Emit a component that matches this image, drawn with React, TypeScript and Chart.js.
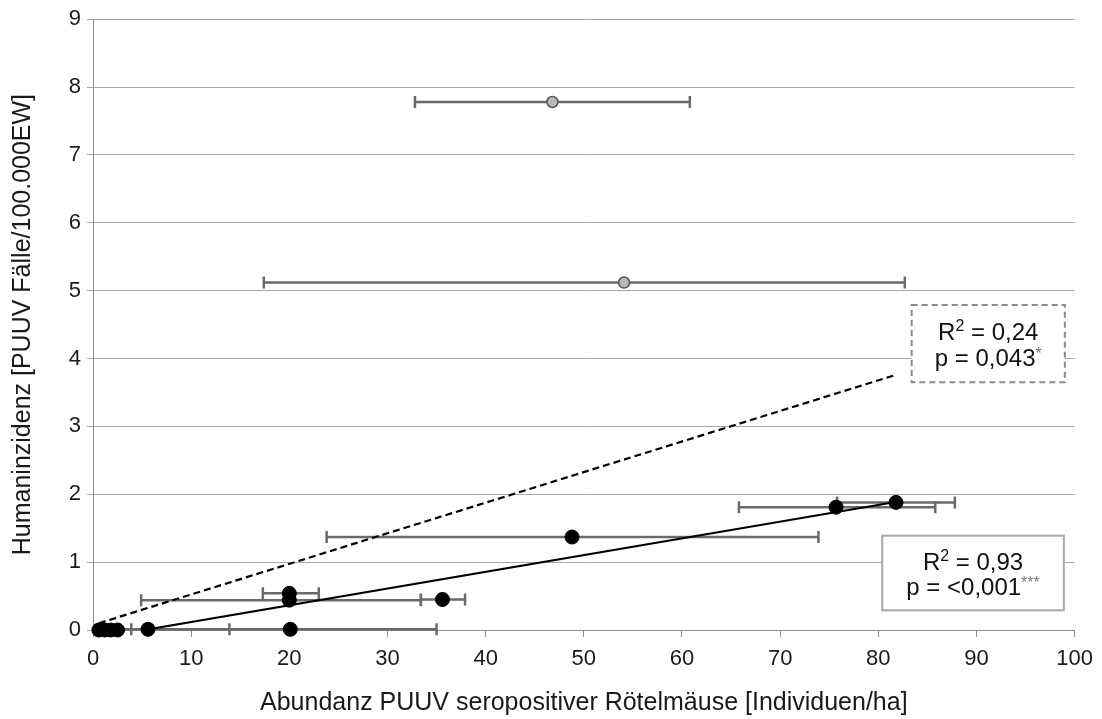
import React, { useEffect, useRef } from "react";
import { Chart, registerables } from "chart.js";

Chart.register(...registerables);

// Significant series (black points)
const sigX = [0.6, 1.2, 1.8, 2.5, 5.6, 20.1, 20.0, 20.0, 35.6, 48.8, 75.7, 81.8];
const sigY = [0.0, 0.0, 0.0, 0.0, 0.01, 0.01, 0.44, 0.54, 0.45, 1.37, 1.81, 1.88];
const sigXLow = [0.6, 1.2, 1.8, 2.5, -2.7, 3.9, 4.9, 17.3, 33.4, 23.8, 65.8, 75.8];
const sigXHigh = [0.6, 1.2, 1.8, 2.5, 13.9, 35.0, 33.4, 23.0, 37.9, 73.9, 85.8, 87.8];

// Outlier series (grey points)
const outX = [46.8, 54.1];
const outY = [7.78, 5.12];
const outXLow = [32.8, 17.4];
const outXHigh = [60.8, 82.7];

// Trend lines
const trendAllX = [0.6, 81.8];
const trendAllY = [0.1, 3.76];
const trendSigX = [5.2, 81.9];
const trendSigY = [0.0, 1.89];

// Axes
const xMin = 0;
const xMax = 100;
const xStep = 10;
const yMin = 0;
const yMax = 9;
const yStep = 1;
const xTitle = "Abundanz PUUV seropositiver Rötelmäuse [Individuen/ha]";
const yTitle = "Humaninzidenz [PUUV Fälle/100.000EW]";

// Annotation boxes (data units)
const boxAll = { x0: 83.4, x1: 99.0, y0: 4.79, y1: 3.65 };
const boxSig = { x0: 80.4, x1: 98.9, y0: 1.39, y1: 0.29 };
const boxAllLines = [
  { main: "R", sup: "2", rest: " = 0,24", tail: "" },
  { main: "p = 0,043", sup: "", rest: "", tail: "*" },
];
const boxSigLines = [
  { main: "R", sup: "2", rest: " = 0,93", tail: "" },
  { main: "p = <0,001", sup: "", rest: "", tail: "***" },
];

const FONT = "'Liberation Sans', Arial, sans-serif";

const errorBarPlugin = {
  id: "errorBars",
  beforeDatasetsDraw(chart: any) {
    const { ctx, chartArea, scales } = chart;
    const xs = scales.x;
    const ys = scales.y;
    ctx.save();
    ctx.beginPath();
    ctx.rect(chartArea.left, 0, chartArea.right - chartArea.left, chart.height);
    ctx.clip();
    ctx.strokeStyle = "#6a6a6a";
    ctx.lineWidth = 2.5;
    const drawSet = (X: number[], Y: number[], L: number[], H: number[]) => {
      for (let i = 0; i < X.length; i++) {
        if (L[i] === H[i]) continue;
        const py = ys.getPixelForValue(Y[i]);
        const pl = xs.getPixelForValue(L[i]);
        const ph = xs.getPixelForValue(H[i]);
        ctx.beginPath();
        ctx.moveTo(pl, py);
        ctx.lineTo(ph, py);
        ctx.moveTo(pl, py - 6);
        ctx.lineTo(pl, py + 6);
        ctx.moveTo(ph, py - 6);
        ctx.lineTo(ph, py + 6);
        ctx.stroke();
      }
    };
    drawSet(sigX, sigY, sigXLow, sigXHigh);
    drawSet(outX, outY, outXLow, outXHigh);
    ctx.restore();
  },
};

function drawBox(chart: any, box: any, lines: any[], dashed: boolean) {
  const { ctx, scales } = chart;
  const x0 = scales.x.getPixelForValue(box.x0);
  const x1 = scales.x.getPixelForValue(box.x1);
  const y0 = scales.y.getPixelForValue(box.y0);
  const y1 = scales.y.getPixelForValue(box.y1);
  ctx.save();
  ctx.fillStyle = "#ffffff";
  ctx.fillRect(x0, y0, x1 - x0, y1 - y0);
  ctx.strokeStyle = dashed ? "#8a8a8a" : "#a8a8a8";
  ctx.lineWidth = 2;
  ctx.setLineDash(dashed ? [6, 4] : []);
  ctx.strokeRect(x0, y0, x1 - x0, y1 - y0);
  ctx.setLineDash([]);
  const size = 24;
  const supSize = 16;
  const cx = (x0 + x1) / 2;
  const h = y1 - y0;
  const lineY = [y0 + h * 0.34, y0 + h * 0.68];
  ctx.textBaseline = "alphabetic";
  ctx.textAlign = "left";
  lines.forEach((ln, i) => {
    const base = lineY[i] + size * 0.36;
    ctx.font = `${size}px ${FONT}`;
    const wMain = ctx.measureText(ln.main).width;
    const wRest = ctx.measureText(ln.rest).width;
    ctx.font = `${supSize}px ${FONT}`;
    const wSup = ctx.measureText(ln.sup).width;
    const wTail = ctx.measureText(ln.tail).width;
    const total = wMain + wSup + wRest + wTail;
    let x = cx - total / 2;
    ctx.fillStyle = "#111111";
    ctx.font = `${size}px ${FONT}`;
    ctx.fillText(ln.main, x, base);
    x += wMain;
    ctx.font = `${supSize}px ${FONT}`;
    ctx.fillText(ln.sup, x, base - size * 0.36);
    x += wSup;
    ctx.font = `${size}px ${FONT}`;
    ctx.fillText(ln.rest, x, base);
    x += wRest;
    ctx.fillStyle = "#777777";
    ctx.font = `${supSize}px ${FONT}`;
    ctx.fillText(ln.tail, x, base - size * 0.3);
  });
  ctx.restore();
}

const boxPlugin = {
  id: "statBoxes",
  afterDraw(chart: any) {
    drawBox(chart, boxAll, boxAllLines, true);
    drawBox(chart, boxSig, boxSigLines, false);
  },
};

export default function App() {
  const ref = useRef<HTMLCanvasElement>(null);
  useEffect(() => {
    if (!ref.current) return;
    const toPts = (X: number[], Y: number[]) => X.map((x, i) => ({ x, y: Y[i] }));
    const chart = new Chart(ref.current, {
      type: "scatter",
      data: {
        datasets: [
          {
            label: "sig",
            data: toPts(sigX, sigY),
            backgroundColor: "#000000",
            borderColor: "#000000",
            pointRadius: 7,
            pointHoverRadius: 7,
            clip: false,
            order: 0,
          } as any,
          {
            label: "out",
            data: toPts(outX, outY),
            backgroundColor: "#b8b8b8",
            borderColor: "#555555",
            borderWidth: 1.5,
            pointRadius: 5.5,
            clip: false,
            order: 1,
          } as any,
          {
            type: "line",
            label: "trendSig",
            data: toPts(trendSigX, trendSigY),
            borderColor: "#000000",
            borderWidth: 2.2,
            pointRadius: 0,
            fill: false,
            showLine: true,
            order: 2,
          } as any,
          {
            type: "line",
            label: "trendAll",
            data: toPts(trendAllX, trendAllY),
            borderColor: "#000000",
            borderWidth: 2.2,
            borderDash: [7, 4],
            pointRadius: 0,
            fill: false,
            showLine: true,
            order: 3,
          } as any,
        ],
      },
      options: {
        responsive: false,
        animation: false,
        events: [],
        layout: { padding: { top: 15, right: 26, left: 0, bottom: 0 } },
        plugins: { legend: { display: false }, tooltip: { enabled: false } },
        scales: {
          x: {
            type: "linear",
            min: xMin,
            max: xMax,
            ticks: { stepSize: xStep, color: "#1a1a1a", font: { family: FONT, size: 22 }, padding: 9 },
            grid: { drawOnChartArea: false, drawTicks: true, tickLength: 7, color: "#8c8c8c" },
            border: { color: "#8c8c8c", width: 1 },
            title: { display: true, text: xTitle, color: "#1a1a1a", font: { family: FONT, size: 25 }, padding: { bottom: 1, top: 0 } },
            afterFit: (s: any) => { s.height = 89; },
          },
          y: {
            type: "linear",
            min: yMin,
            max: yMax,
            ticks: { stepSize: yStep, color: "#1a1a1a", font: { family: FONT, size: 22 }, padding: 6 },
            grid: { color: "#a8a8a8", tickLength: 6, lineWidth: 1 },
            border: { color: "#8c8c8c", width: 1 },
            title: { display: true, text: yTitle, color: "#1a1a1a", font: { family: FONT, size: 25 }, padding: { top: 8, bottom: 0 } },
            afterFit: (s: any) => { s.width = 93; },
          },
        },
      },
      plugins: [errorBarPlugin, boxPlugin],
    });
    return () => chart.destroy();
  }, []);
  return (
    <div style={{ position: "absolute", left: 0, top: 0, width: 1102, height: 719, background: "#fff" }}>
      <canvas ref={ref} width={1102} height={719} style={{ width: 1102, height: 719, display: "block" }} />
    </div>
  );
}
